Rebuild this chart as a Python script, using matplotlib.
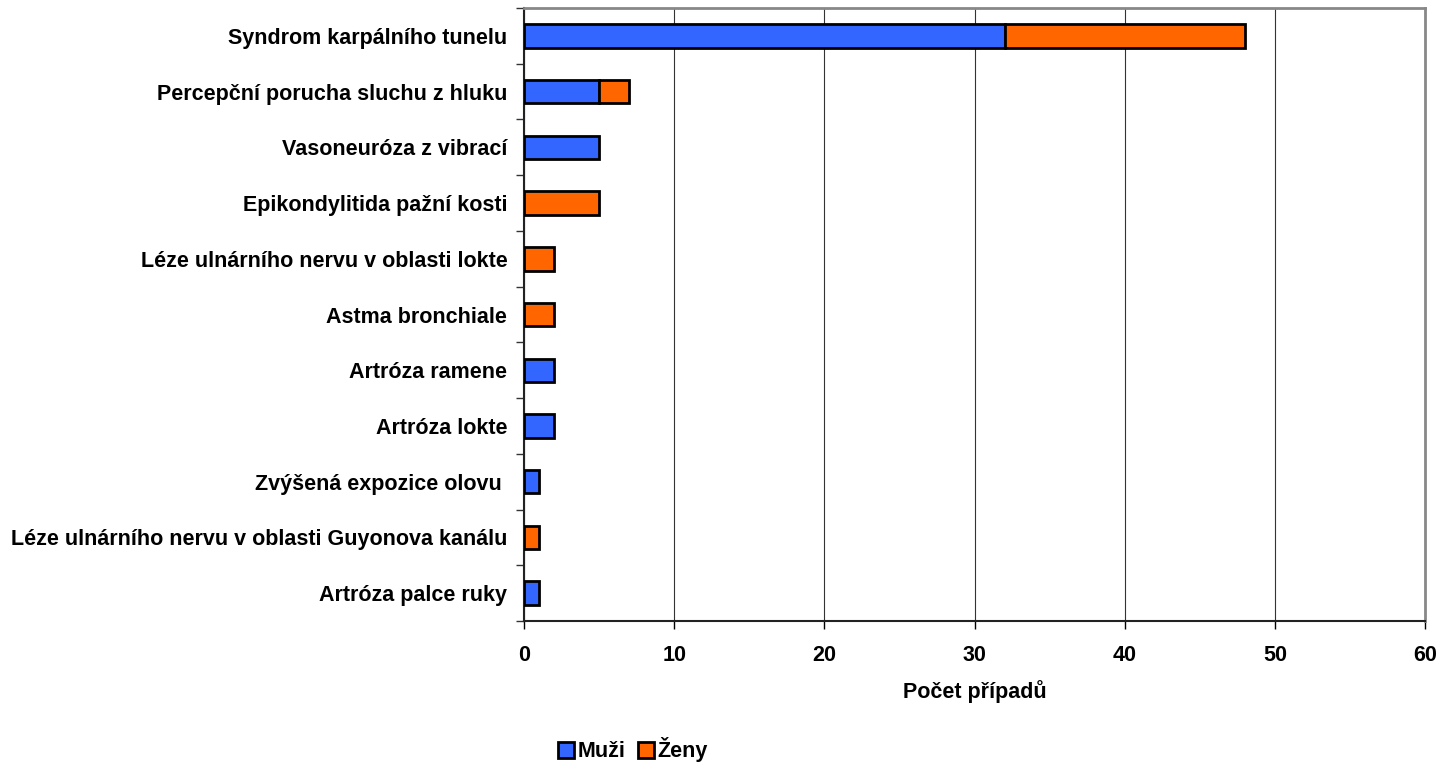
import numpy as np
import matplotlib.pyplot as plt
from matplotlib.patches import Patch
from matplotlib.ticker import FixedLocator

plt.rcParams["font.family"] = ["Liberation Sans", "DejaVu Sans"]
plt.rcParams["font.weight"] = "bold"

# -----------------------------
# DATA
# -----------------------------
categories = [
    "Syndrom karpálního tunelu",
    "Percepční porucha sluchu z hluku",
    "Vasoneuróza z vibrací",
    "Epikondylitida pažní kosti",
    "Léze ulnárního nervu v oblasti lokte",
    "Astma bronchiale",
    "Artróza ramene",
    "Artróza lokte",
    "Zvýšená expozice olovu ",
    "Léze ulnárního nervu v oblasti Guyonova kanálu",
    "Artróza palce ruky",
]
muzi = [32, 5, 5, 0, 0, 0, 2, 2, 1, 0, 1]
zeny = [16, 2, 0, 5, 2, 2, 0, 0, 0, 1, 0]

BLUE = "#3366FF"
ORANGE = "#FF6600"
FS = 15.5

# -----------------------------
# PLOT
# -----------------------------
fig = plt.figure(figsize=(14.42, 7.65), dpi=100)
ax = fig.add_axes([0.3634, 0.1882, 0.6248, 0.8013])

y = np.arange(len(categories))
h = 0.42
m = np.array(muzi)
z = np.array(zeny)

mask_m = m > 0
mask_z = z > 0
ax.barh(y[mask_m], m[mask_m], height=h, color=BLUE, edgecolor="black",
        linewidth=2, zorder=3)
ax.barh(y[mask_z], z[mask_z], left=m[mask_z], height=h, color=ORANGE,
        edgecolor="black", linewidth=2, zorder=3)

ax.set_xlim(0, 60)
ax.set_ylim(len(categories) - 0.5, -0.5)
ax.set_xticks(np.arange(0, 61, 10))
ax.set_yticks(y)
ax.set_yticklabels(categories, fontsize=FS, fontweight="bold")
ax.yaxis.set_minor_locator(FixedLocator(np.arange(-0.5, len(categories), 1)))
ax.tick_params(axis="y", which="major", length=0, pad=12)
ax.tick_params(axis="y", which="minor", length=6, width=1, color="#333333")
ax.tick_params(axis="x", length=6, width=1, labelsize=FS, pad=11)
for lab in ax.get_xticklabels():
    lab.set_fontweight("bold")

ax.xaxis.grid(True, color="#333333", linewidth=0.8, zorder=0)
ax.set_axisbelow(True)

ax.spines["bottom"].set_color("#222222")
ax.spines["bottom"].set_linewidth(1.5)
ax.spines["left"].set_color("#222222")
ax.spines["left"].set_linewidth(1.5)
ax.spines["top"].set_color("#888888")
ax.spines["top"].set_linewidth(2)
ax.spines["right"].set_color("#888888")
ax.spines["right"].set_linewidth(2)

ax.set_xlabel("Počet případů", fontsize=FS, fontweight="bold", labelpad=10)

handles = [
    Patch(facecolor=BLUE, edgecolor="black", linewidth=2),
    Patch(facecolor=ORANGE, edgecolor="black", linewidth=2),
]
fig.legend(handles, ["Muži", "Ženy"], loc="center", bbox_to_anchor=(0.439, 0.02),
           ncol=2, frameon=False, handlelength=0.75, handleheight=0.75,
           handletextpad=0.15, columnspacing=0.6, prop={"weight": "bold", "size": FS})

fig.savefig("out.png", dpi=100)
